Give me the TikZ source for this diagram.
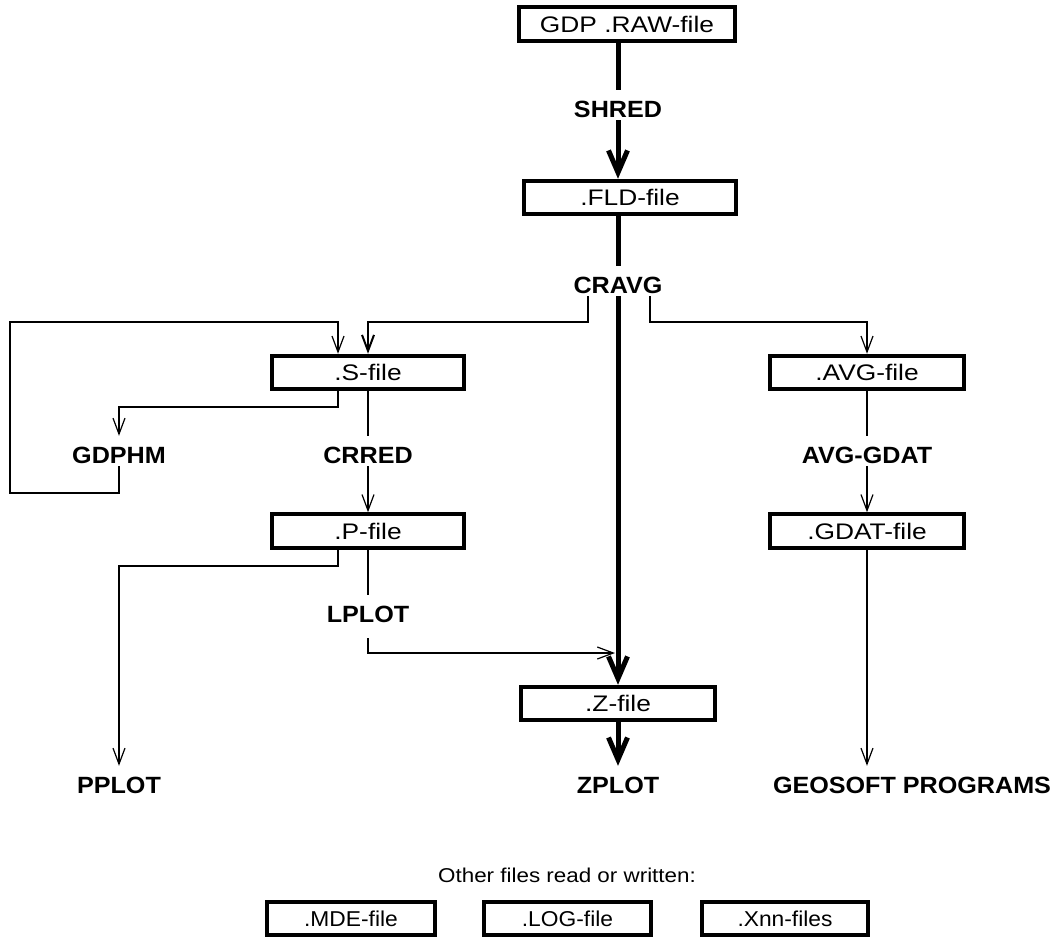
\documentclass[tikz,border=0pt]{standalone}
\usepackage{fontspec}
\setmainfont{Liberation Sans}
\newfontfamily\boxf{Liberation Sans}[FakeStretch=1.17]
\newfontfamily\boxg{Liberation Sans}[FakeStretch=1.06]
\newfontfamily\othf{Liberation Sans}[FakeStretch=1.12]
\newfontfamily\labf{Liberation Sans}[FakeStretch=1.07]
\usetikzlibrary{arrows.meta}
\begin{document}
\begin{tikzpicture}[x=1pt,y=-1pt,
  filebox/.style={draw, line width=4pt, inner sep=0pt, minimum height=33.5pt,
    font=\boxf\fontsize{22.5}{26}\selectfont},
  lowbox/.style={filebox, font=\boxg\fontsize{21.5}{26}\selectfont},
  lab/.style={font=\labf\bfseries\fontsize{23.5}{28}\selectfont, inner xsep=0pt,
    inner ysep=3pt, text height=24pt, text depth=0pt, anchor=base},
  thickln/.style={line width=5pt},
  midln/.style={line width=1.7pt},
  thinln/.style={line width=1.2pt},
  tarr/.style={-{Straight Barb[length=16pt,width=12pt]}},
  barr/.style={-{Straight Barb[length=16pt,width=12pt,line width=2pt]}},
  karr/.style={-{Straight Barb[length=22pt,width=19pt]}}]
\useasboundingbox (0,0) rectangle (1061,938);

% file boxes
\node[filebox, minimum width=215.5pt] (gdp)  at (627,24)    {GDP .RAW-file};
\node[filebox, minimum width=211.5pt] (fld)  at (630,197.5) {.FLD-file};
\node[filebox, minimum width=191.5pt] (s)    at (368,372.5) {.S-file};
\node[filebox, minimum width=194.5pt] (avg)  at (867,372.5) {.AVG-file};
\node[filebox, minimum width=192.5pt] (p)    at (368,531)   {.P-file};
\node[filebox, minimum width=194.5pt] (gdat) at (867,531)   {.GDAT-file};
\node[filebox, minimum width=193.5pt] (z)    at (618,703.5) {.Z-file};
\node[lowbox, minimum width=167.5pt] (mde) at (351,918.5)   {.MDE-file};
\node[lowbox, minimum width=166.5pt] (log) at (567.5,918.5) {.LOG-file};
\node[lowbox, minimum width=165.5pt] (xnn) at (785,918.5)   {.Xnn-files};

% program labels
\node[lab] (shred)   at (618,117) {SHRED};
\node[lab] (cravg)   at (618,293) {CRAVG};
\node[lab] (gdphm)   at (119,463) {GDPHM};
\node[lab] (crred)   at (368,463) {CRRED};
\node[lab] (avggdat) at (867,463) {AVG-GDAT};
\node[lab] (lplot)   at (368,622) {LPLOT};
\node[lab] (pplot)   at (119,793) {PPLOT};
\node[lab] (zplot)   at (618,793) {ZPLOT};
\node[lab] (geo)     at (912,793) {GEOSOFT PROGRAMS};
\node[font=\othf\fontsize{20}{24}\selectfont, anchor=base] (other) at (567,882) {Other files read or written:};

% bend points
\coordinate (cl) at (588,322);
\coordinate (cr) at (650,322);
\coordinate (sg) at (338,407);
\coordinate (lb) at (10,493);
\coordinate (lt) at (10,322);
\coordinate (ls) at (338,322);
\coordinate (pp) at (338,566);
\coordinate (lz) at (368,653);
\coordinate (zin) at (615,653);

% main thick flow
\draw[thickln] (shred.north |- gdp.south) -- (shred.north);
\draw[thickln, karr] (shred.south) -- (shred.south |- fld.north);
\draw[thickln] (cravg.north |- fld.south) -- (cravg.north);
\draw[thickln, karr] (cravg.south) -- (cravg.south |- z.north);
\draw[thickln, karr] (zplot.north |- z.south) -- (zplot.north);

% CRAVG branches
\draw[thinln, barr] (cl |- cravg.south) -- (cl) -| (s.north);
\draw[thinln, tarr] (cr |- cravg.south) -- (cr) -| (avg.north);

% S-file branches
\draw[thinln, tarr] (sg |- s.south) -- (sg) -| (gdphm.north);
\draw[thinln, tarr] (gdphm.south) -- (gdphm.south |- lb) -- (lb) -- (lt) -- (ls) -- (ls |- s.north);
\draw[midln] (s.south) -- (crred.north);
\draw[thinln, tarr] (crred.south) -- (p.north);

% P-file branches
\draw[thinln, tarr] (pp |- p.south) -- (pp) -| (pplot.north);
\draw[midln] (p.south) -- (lplot.north);
\draw[thinln, tarr] ([yshift=-13pt]lplot.south) -- (lz) -- (zin);

% AVG branch
\draw[midln] (avg.south) -- (avggdat.north);
\draw[thinln, tarr] (avggdat.south) -- (gdat.north);
\draw[thinln, tarr] (gdat.south) -- (gdat.south |- geo.north);
\end{tikzpicture}
\end{document}
